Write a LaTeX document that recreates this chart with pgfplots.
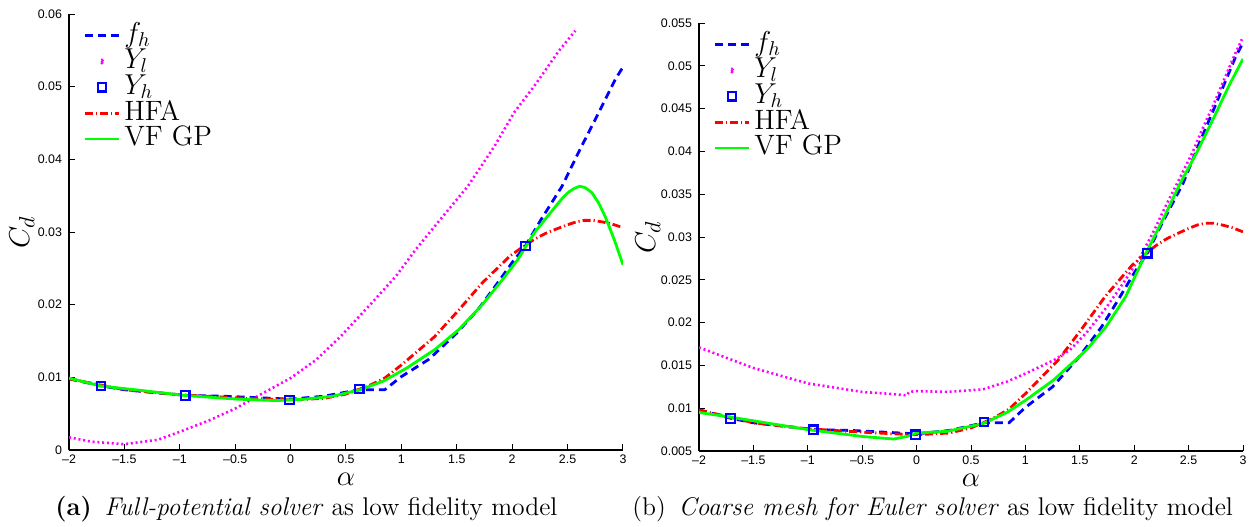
\documentclass[border=0pt]{standalone}
\usepackage{fontspec}
\setsansfont{Liberation Sans}
\usepackage{pgfplots}
\usepackage{pgfplotstable}
\pgfplotsset{compat=1.18}

\definecolor{mblue}{rgb}{0,0,1}
\definecolor{mmag}{rgb}{1,0,1}
\definecolor{mred}{rgb}{1,0,0}
\definecolor{mgreen}{rgb}{0,1,0}

\pgfplotstableread{
a c
-2 0.0098
-1.7 0.0088
-1.5 0.0083
-1.3 0.0080
-0.93 0.0075
-0.6 0.0074
-0.3 0.0072
0 0.0070
0.3 0.0074
0.62 0.0083
0.85 0.0083
1.0 0.0101
1.25 0.0125
1.5 0.0161
1.7 0.0195
1.85 0.0226
2.0 0.0258
2.12 0.0281
2.26 0.0317
2.45 0.0363
2.6 0.0410
2.75 0.0455
2.93 0.0510
3.0 0.0527
}\fh

\pgfplotstableread{
a c
-2 0.0098
-1.7 0.0089
-1.5 0.0083
-1.0 0.0076
-0.5 0.0072
-0.2 0.0070
0 0.0069
0.3 0.0071
0.5 0.0077
0.7 0.0088
0.85 0.0099
1.0 0.0117
1.1 0.0130
1.3 0.0156
1.52 0.0193
1.73 0.0230
1.98 0.0267
2.1 0.0280
2.2 0.0290
2.3 0.0298
2.38 0.0303
2.5 0.0310
2.58 0.0314
2.65 0.0316
2.73 0.0316
2.81 0.0314
2.9 0.0311
3.0 0.0306
}\hfa

\pgfplotstableread{
a c
-1.71 0.0088
-0.95 0.0075
-0.01 0.0069
0.62 0.0084
2.12 0.0281
}\yh

\pgfplotstableread{
a c
-2 0.00175
-1.8 0.00115
-1.5 0.0008
-1.2 0.0014
-1.0 0.0025
-0.73 0.0041
-0.5 0.0057
-0.3 0.0074
0 0.0099
0.23 0.0124
0.45 0.0156
0.73 0.0202
0.95 0.0239
1.13 0.0276
1.35 0.0317
1.6 0.0363
1.84 0.0418
2.02 0.0465
2.2 0.0501
2.42 0.0549
2.57 0.0577
}\ylA

\pgfplotstableread{
a c
-2 0.0099
-1.71 0.0088
-1.41 0.0083
-0.95 0.0075
-0.48 0.0070
-0.13 0.0068
0.13 0.0070
0.38 0.0074
0.63 0.0083
0.84 0.0095
1.05 0.0113
1.3 0.0138
1.52 0.0166
1.73 0.0200
1.91 0.0234
2.05 0.0262
2.2 0.0299
2.3 0.0318
2.38 0.0333
2.45 0.0346
2.51 0.0355
2.56 0.0360
2.61 0.0363
2.66 0.0361
2.72 0.0354
2.78 0.0340
2.84 0.0321
2.92 0.0290
3.0 0.0255
}\gpA

\pgfplotstableread{
a c
-2 0.0171
-1.73 0.0158
-1.5 0.0147
-1.0 0.0129
-0.5 0.0119
-0.27 0.0117
-0.09 0.0115
-0.07 0.0119
0 0.0120
0.28 0.0119
0.61 0.0122
0.83 0.0131
1.01 0.0141
1.26 0.0156
1.41 0.0168
1.56 0.0188
1.74 0.0217
1.92 0.0250
2.07 0.0280
2.18 0.0307
2.30 0.0339
2.42 0.0369
2.54 0.0400
2.63 0.0427
2.73 0.0455
2.82 0.0482
2.91 0.0509
2.99 0.0531
}\ylB

\pgfplotstableread{
a c
-2 0.0095
-1.73 0.0090
-1.0 0.0075
-0.5 0.0067
-0.21 0.0064
-0.09 0.0067
0 0.0071
0.28 0.0073
0.61 0.0082
0.83 0.0095
1.01 0.0110
1.26 0.0133
1.56 0.0168
1.74 0.0195
1.92 0.0230
2.1 0.0279
2.27 0.0322
2.42 0.0362
2.58 0.0400
2.73 0.0439
2.88 0.0479
3.0 0.0508
}\gpB

\pgfplotsset{
  mystyle/.style={
    scale only axis,
    axis x line*=bottom,
    axis y line*=left,
    tick align=inside,
    xmin=-2, xmax=3,
    xtick={-2,-1.5,...,3},
    xticklabels={–2,–1.5,–1,–0.5,0,0.5,1,1.5,2,2.5,3},
    major tick length=3pt,
    tick style={black, line width=0.5pt},
    axis line style={line width=0.6pt},
    tick label style={font=\sffamily\fontsize{6.2}{7}\selectfont},
    xticklabel style={yshift=1pt},
    /pgf/number format/assume math mode=true,
    scaled y ticks=false,
    xlabel={$\alpha$},
    ylabel={$C_d$},
    label style={font=\fontsize{15}{16}\selectfont},
    xlabel style={at={(axis description cs:0.5,0)}, anchor=base, yshift=-17.5pt,
      inner sep=0pt, text height=6.5pt, text depth=0pt},
    legend cell align=left,
    legend style={draw=none, fill=none, at={(axis description cs:0,1)}, anchor=north west,
      xshift=7pt, yshift=-4.5pt,
      font=\fontsize{14}{15}\selectfont, row sep=0.6pt, column sep=2pt, inner sep=0pt,
      nodes={inner sep=0pt, text height=9.6pt, text depth=2.7pt}},
    every axis plot/.append style={line width=1.4pt},
  },
  fhstyle/.style={mblue, dash pattern=on 4pt off 2.5pt},
  ylstyle/.style={mmag, line width=1.3pt, dash pattern=on 1pt off 1.4pt,
     legend image code/.code={\fill[mmag] (0.3cm,0) circle (0.65pt);}},
  yhstyle/.style={only marks, mark=square, mark size=2.1pt, mblue, mark options={line width=1.1pt, fill=white, solid}},
  hfastyle/.style={mred, dash pattern=on 4pt off 1.5pt on 0.6pt off 1.5pt},
  gpstyle/.style={mgreen, solid},
}

\begin{document}
\begin{tikzpicture}
\useasboundingbox (0,0) rectangle (626pt,263pt);
\begin{axis}[mystyle,
  at={(34.5pt,38pt)}, anchor=south west,
  width=277pt, height=218pt,
  ymin=0, ymax=0.06,
  ytick={0,0.01,...,0.06},
  yticklabels={0,0.01,0.02,0.03,0.04,0.05,0.06},
  ylabel style={at={(axis description cs:-0.085,0.5)}, anchor=center},
]
\addplot[fhstyle] table[x=a,y=c]{\fh};
\addlegendentry{$f_h$}
\addplot[ylstyle] table[x=a,y=c]{\ylA};
\addlegendentry{$Y_l$}
\addplot[yhstyle] table[x=a,y=c]{\yh};
\addlegendentry{$Y_h$}
\addplot[hfastyle] table[x=a,y=c]{\hfa};
\addlegendentry{HFA}
\addplot[gpstyle] table[x=a,y=c]{\gpA};
\addlegendentry{VF GP}
\end{axis}

\begin{axis}[mystyle,
  at={(349.5pt,37.5pt)}, anchor=south west,
  width=272pt, height=214pt,
  ymin=0.005, ymax=0.055,
  ytick={0.005,0.01,...,0.055},
  yticklabels={0.005,0.01,0.015,0.02,0.025,0.03,0.035,0.04,0.045,0.05,0.055},
  ylabel style={at={(axis description cs:-0.094,0.5)}, anchor=center},
]
\addplot[fhstyle] table[x=a,y=c]{\fh};
\addlegendentry{$f_h$}
\addplot[ylstyle] table[x=a,y=c]{\ylB};
\addlegendentry{$Y_l$}
\addplot[yhstyle] table[x=a,y=c]{\yh};
\addlegendentry{$Y_h$}
\addplot[hfastyle] table[x=a,y=c]{\hfa};
\addlegendentry{HFA}
\addplot[gpstyle] table[x=a,y=c]{\gpB};
\addlegendentry{VF GP}
\end{axis}

\node[anchor=base west, font=\fontsize{12.8}{14}\selectfont, inner sep=0pt] at (27.5pt,5.5pt)
  {\textbf{(a)}\enspace\textit{Full-potential solver} as low fidelity model};
\node[anchor=base west, font=\fontsize{12.8}{14}\selectfont, inner sep=0pt] at (316pt,5.5pt)
  {(b)\enspace\textit{Coarse mesh for Euler solver} as low fidelity model};
\end{tikzpicture}
\end{document}
